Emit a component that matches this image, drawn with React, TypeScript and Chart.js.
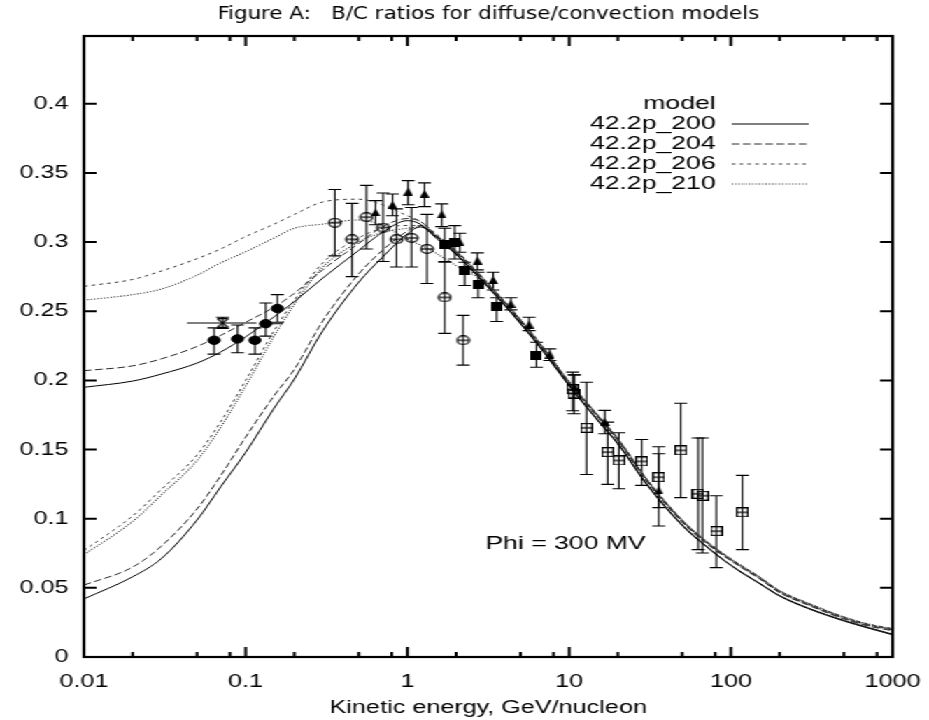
import React, { useEffect, useRef } from 'react';
import { Chart, registerables } from 'chart.js';

Chart.register(...registerables);

// ---------- text ----------
const titleText = 'Figure A:   B/C ratios for diffuse/convection models';
const xTitleText = 'Kinetic energy, GeV/nucleon';
const noteText = 'Phi = 300 MV';
const noteE = 9.5;
const noteY = 0.082;
const legendTitle = 'model';
const modelNames = ['42.2p_200', '42.2p_204', '42.2p_206', '42.2p_210'];

// ---------- ticks ----------
const xTickValues = [0.01, 0.1, 1, 10, 100, 1000];
const xTickLabels = ['0.01', '0.1', '1', '10', '100', '1000'];
const xMinorTicks = [0.02, 0.05, 0.08, 0.2, 0.5, 0.8, 2, 5, 8, 20, 50, 80, 200, 500, 800];
const yTickValues = [0, 0.05, 0.1, 0.15, 0.2, 0.25, 0.3, 0.35, 0.4];
const yTickLabels = ['0', '0.05', '0.1', '0.15', '0.2', '0.25', '0.3', '0.35', '0.4'];

// ---------- model curves (kinetic energy, GeV/nucleon) ----------
const curveE = [0.01, 0.02, 0.03, 0.05, 0.07, 0.1, 0.15, 0.2, 0.3, 0.5, 0.7, 1, 1.2, 1.5, 2, 3, 5, 7, 10, 15, 20, 30, 50, 70, 100, 150, 200, 300, 500, 700, 1000];
const m200a = [0.195, 0.1995, 0.2045, 0.2125, 0.2205, 0.2315, 0.246, 0.257, 0.274, 0.294, 0.307, 0.3155, 0.313, 0.303, 0.291, 0.270, 0.241, 0.220, 0.196, 0.171, 0.154, 0.125, 0.095, 0.080, 0.066, 0.053, 0.044, 0.035, 0.026, 0.021, 0.016];
const m200b = [0.042, 0.058, 0.071, 0.099, 0.123, 0.148, 0.180, 0.201, 0.236, 0.271, 0.289, 0.306, 0.311, 0.304, 0.2915, 0.2705, 0.2415, 0.2205, 0.1965, 0.1715, 0.1545, 0.1255, 0.0955, 0.0805, 0.0665, 0.0535, 0.0445, 0.0355, 0.0265, 0.0215, 0.0165];
const m204a = [0.207, 0.2105, 0.2155, 0.2245, 0.2325, 0.242, 0.253, 0.263, 0.280, 0.299, 0.311, 0.317, 0.315, 0.305, 0.293, 0.272, 0.243, 0.222, 0.198, 0.174, 0.157, 0.128, 0.098, 0.083, 0.070, 0.057, 0.047, 0.038, 0.028, 0.023, 0.0195];
const m204b = [0.052, 0.065, 0.080, 0.107, 0.131, 0.159, 0.189, 0.208, 0.243, 0.277, 0.294, 0.308, 0.312, 0.3045, 0.2925, 0.2715, 0.2425, 0.2215, 0.1975, 0.1735, 0.1565, 0.1275, 0.0975, 0.0825, 0.0695, 0.0565, 0.0465, 0.0375, 0.0275, 0.0225, 0.019];
const m206a = [0.268, 0.273, 0.279, 0.288, 0.295, 0.304, 0.313, 0.320, 0.329, 0.331, 0.327, 0.319, 0.315, 0.306, 0.294, 0.273, 0.244, 0.223, 0.199, 0.175, 0.158, 0.129, 0.099, 0.084, 0.071, 0.058, 0.048, 0.039, 0.029, 0.024, 0.0205];
const m206b = [0.077, 0.102, 0.121, 0.146, 0.170, 0.200, 0.236, 0.258, 0.285, 0.303, 0.310, 0.312, 0.312, 0.305, 0.2935, 0.2725, 0.2435, 0.2225, 0.1985, 0.1745, 0.1575, 0.1285, 0.0985, 0.0835, 0.0705, 0.0575, 0.0475, 0.0385, 0.0285, 0.0235, 0.020];
const m210a = [0.258, 0.262, 0.266, 0.276, 0.285, 0.293, 0.303, 0.310, 0.313, 0.316, 0.312, 0.302, 0.298, 0.292, 0.283, 0.271, 0.244, 0.223, 0.199, 0.175, 0.158, 0.129, 0.099, 0.084, 0.071, 0.058, 0.048, 0.039, 0.029, 0.024, 0.0205];
const m210b = [0.074, 0.098, 0.117, 0.142, 0.166, 0.196, 0.232, 0.255, 0.282, 0.300, 0.307, 0.310, 0.311, 0.3045, 0.2935, 0.2725, 0.2435, 0.2225, 0.1985, 0.1745, 0.1575, 0.1285, 0.0985, 0.0835, 0.0705, 0.0575, 0.0475, 0.0385, 0.0285, 0.0235, 0.020];

// ---------- measurements ----------
const fcE = [0.0638, 0.0891, 0.114, 0.133, 0.157];
const fcY = [0.229, 0.230, 0.229, 0.241, 0.252];
const fcLo = [0.219, 0.220, 0.219, 0.232, 0.242];
const fcHi = [0.238, 0.240, 0.238, 0.256, 0.262];
const fcXLo = [null, null, null, 0.122, null];
const fcXHi = [null, null, null, 0.17, null];

const hgE = [0.072];
const hgY = [0.2415];
const hgLo = [0.2375];
const hgHi = [0.2457];
const hgXLo = [0.0435];
const hgXHi = [0.1167];

const ocE = [0.356, 0.455, 0.558, 0.708, 0.856, 1.06, 1.32, 1.70, 2.21];
const ocY = [0.314, 0.302, 0.318, 0.3105, 0.302, 0.303, 0.295, 0.260, 0.229];
const ocLo = [0.290, 0.275, 0.295, 0.286, 0.282, 0.282, 0.270, 0.234, 0.211];
const ocHi = [0.338, 0.328, 0.341, 0.3355, 0.324, 0.325, 0.320, 0.286, 0.247];

const ftE = [0.635, 0.809, 1.01, 1.275, 1.63, 2.11, 2.71, 3.39, 4.36, 5.65, 7.59, 10.8, 16.6, 35.8];
const ftY = [0.3215, 0.327, 0.3365, 0.335, 0.320, 0.300, 0.2866, 0.2727, 0.2553, 0.2404, 0.2187, 0.195, 0.170, 0.1204];
const ftLo = [0.3125, 0.319, 0.327, 0.3256, 0.3112, 0.2926, 0.2799, 0.2654, 0.251, 0.236, 0.2144, 0.187, 0.1614, 0.0947];
const ftHi = [0.330, 0.3348, 0.3444, 0.3428, 0.3276, 0.3064, 0.2922, 0.2782, 0.2597, 0.2457, 0.2228, 0.204, 0.1783, 0.147];

const fsE = [1.70, 1.96, 2.26, 2.74, 3.56, 6.28];
const fsY = [0.298, 0.300, 0.2794, 0.2693, 0.2534, 0.218];
const fsLo = [0.2854, 0.2878, 0.2686, 0.2597, 0.2426, 0.2095];
const fsHi = [0.310, 0.3119, 0.2854, 0.2782, 0.2597, 0.2276];

const osE = [10.5, 10.7, 12.8, 17.3, 20.3, 28.1, 35.8, 49.0, 62.7, 66.7, 81.3, 117.8];
const osY = [0.1935, 0.1905, 0.1657, 0.1481, 0.1421, 0.1414, 0.130, 0.1494, 0.118, 0.1166, 0.091, 0.1046];
const osLo = [0.1780, 0.1759, 0.132, 0.1248, 0.1217, 0.1241, 0.108, 0.1152, 0.0776, 0.0752, 0.0646, 0.0776];
const osHi = [0.206, 0.204, 0.1987, 0.1698, 0.1621, 0.1573, 0.152, 0.1835, 0.1583, 0.1583, 0.1166, 0.1313];

// ---------- layout constants ----------
const FONT = '"Liberation Sans", Arial, Helvetica, sans-serif';
const TITLE_FONT = '"Liberation Sans Narrow", "DejaVu Sans Condensed", "Arial Narrow", "Liberation Sans", sans-serif';
const CANVAS_W = 664;
const CANVAS_H = 720;
const STRETCH = 929 / CANVAS_W;

function pts(xs: number[], ys: number[]) {
  return xs.map((x, i) => ({ x, y: ys[i] }));
}

function makeMarker(w: number, h: number, draw: (c: CanvasRenderingContext2D) => void) {
  const cv = document.createElement('canvas');
  cv.width = w;
  cv.height = h;
  const c = cv.getContext('2d')!;
  c.strokeStyle = '#000';
  c.fillStyle = '#000';
  c.lineWidth = 1.25;
  draw(c);
  return cv;
}

const errorBarPlugin = {
  id: 'errorBars',
  beforeDatasetsDraw(chart: any) {
    const { ctx } = chart;
    const xs = chart.scales.x;
    const ys = chart.scales.y;
    ctx.save();
    ctx.strokeStyle = '#000';
    ctx.lineWidth = 1.1;
    const cap = 4.6;
    chart.data.datasets.forEach((ds: any) => {
      if (!ds.errLo) return;
      ds.data.forEach((p: any, i: number) => {
        const px = xs.getPixelForValue(p.x);
        const yl = ys.getPixelForValue(ds.errLo[i]);
        const yh = ys.getPixelForValue(ds.errHi[i]);
        ctx.beginPath();
        ctx.moveTo(px, yl);
        ctx.lineTo(px, yh);
        ctx.moveTo(px - cap, yl);
        ctx.lineTo(px + cap, yl);
        ctx.moveTo(px - cap, yh);
        ctx.lineTo(px + cap, yh);
        if (ds.errXLo && ds.errXLo[i] != null) {
          const py = ys.getPixelForValue(p.y);
          ctx.moveTo(xs.getPixelForValue(ds.errXLo[i]), py);
          ctx.lineTo(xs.getPixelForValue(ds.errXHi[i]), py);
        }
        ctx.stroke();
      });
    });
    ctx.restore();
  },
};

const framePlugin = {
  id: 'gnuFrame',
  afterDraw(chart: any) {
    const { ctx, chartArea } = chart;
    const { left, right, top, bottom } = chartArea;
    const xs = chart.scales.x;
    const ys = chart.scales.y;
    ctx.save();
    ctx.strokeStyle = '#000';
    ctx.lineWidth = 2.2;
    ctx.strokeRect(left, top, right - left, bottom - top);
    ctx.lineWidth = 2;
    ctx.beginPath();
    yTickValues.forEach((v) => {
      const py = ys.getPixelForValue(v);
      ctx.moveTo(left, py);
      ctx.lineTo(left + 9, py);
      ctx.moveTo(right, py);
      ctx.lineTo(right - 9, py);
    });
    xTickValues.forEach((v) => {
      const px = xs.getPixelForValue(v);
      ctx.moveTo(px, bottom);
      ctx.lineTo(px, bottom - 10);
      ctx.moveTo(px, top);
      ctx.lineTo(px, top + 10);
    });
    xMinorTicks.forEach((v) => {
      const px = xs.getPixelForValue(v);
      ctx.moveTo(px, bottom);
      ctx.lineTo(px, bottom - 5);
      ctx.moveTo(px, top);
      ctx.lineTo(px, top + 5);
    });
    ctx.stroke();

    // legend
    ctx.fillStyle = '#000';
    ctx.font = `19px ${FONT}`;
    ctx.textAlign = 'right';
    ctx.textBaseline = 'middle';
    const textRight = right - 126.5;
    ctx.fillText(legendTitle, textRight, top + 68);
    modelNames.forEach((name, i) => {
      const yy = top + 88 + i * 20;
      ctx.fillText(name, textRight, yy);
      const ds = chart.data.datasets.find((d: any) => d.modelIndex === i);
      if (ds) {
        ctx.save();
        ctx.strokeStyle = ds.borderColor;
        ctx.lineWidth = ds.borderWidth;
        ctx.setLineDash(ds.borderDash || []);
        ctx.beginPath();
        ctx.moveTo(right - 115, yy);
        ctx.lineTo(right - 60, yy);
        ctx.stroke();
        ctx.restore();
      }
    });

    // annotation
    ctx.textAlign = 'center';
    ctx.fillText(noteText, xs.getPixelForValue(noteE), ys.getPixelForValue(noteY));
    ctx.restore();
  },
};

export default function App() {
  const canvasRef = useRef<HTMLCanvasElement | null>(null);

  useEffect(() => {
    if (!canvasRef.current) return;

    const circBar = makeMarker(11, 10, (c) => {
      c.beginPath();
      c.arc(5.5, 5, 4.3, 0, Math.PI * 2);
      c.stroke();
      c.beginPath();
      c.moveTo(1.2, 5);
      c.lineTo(9.8, 5);
      c.stroke();
    });
    const sqBar = makeMarker(9, 10, (c) => {
      c.strokeRect(0.6, 0.6, 7.8, 8.8);
      c.beginPath();
      c.moveTo(0.6, 5);
      c.lineTo(8.4, 5);
      c.stroke();
    });
    const filledSq = makeMarker(8, 9, (c) => {
      c.fillRect(0, 0, 8, 9);
    });
    const filledTri = makeMarker(7, 8, (c) => {
      c.beginPath();
      c.moveTo(3.5, 0);
      c.lineTo(7, 8);
      c.lineTo(0, 8);
      c.closePath();
      c.fill();
    });
    const hourglass = makeMarker(9, 10, (c) => {
      c.beginPath();
      c.moveTo(0.6, 0.6);
      c.lineTo(8.4, 0.6);
      c.moveTo(0.6, 9.4);
      c.lineTo(8.4, 9.4);
      c.moveTo(0.6, 0.6);
      c.lineTo(8.4, 9.4);
      c.moveTo(8.4, 0.6);
      c.lineTo(0.6, 9.4);
      c.stroke();
    });

    const scatterBase = {
      type: 'line' as const,
      showLine: false,
      pointRadius: 5,
      pointHoverRadius: 5,
      borderWidth: 1,
      borderColor: '#000',
      backgroundColor: '#000',
    };

    const scatterSets: any[] = [
      { ...scatterBase, label: 'filled circles', data: pts(fcE, fcY), pointStyle: 'circle', pointRadius: 4.2, errLo: fcLo, errHi: fcHi, errXLo: fcXLo, errXHi: fcXHi },
      { ...scatterBase, label: 'hourglass', data: pts(hgE, hgY), pointStyle: hourglass, errLo: hgLo, errHi: hgHi, errXLo: hgXLo, errXHi: hgXHi },
      { ...scatterBase, label: 'open circles', data: pts(ocE, ocY), pointStyle: circBar, errLo: ocLo, errHi: ocHi },
      { ...scatterBase, label: 'filled triangles', data: pts(ftE, ftY), pointStyle: filledTri, errLo: ftLo, errHi: ftHi },
      { ...scatterBase, label: 'filled squares', data: pts(fsE, fsY), pointStyle: filledSq, errLo: fsLo, errHi: fsHi },
      { ...scatterBase, label: 'open squares', data: pts(osE, osY), pointStyle: sqBar, errLo: osLo, errHi: osHi },
    ];

    const styles = [
      { color: '#000', dash: [] as number[], width: 1 },
      { color: '#2b2b2b', dash: [5.5, 2.5], width: 1 },
      { color: '#3a3a3a', dash: [2.6, 3], width: 1 },
      { color: '#2b2b2b', dash: [1, 1.4], width: 1.1 },
    ];
    const curveSeries: [number, number[]][] = [
      [0, m200a], [0, m200b], [1, m204a], [1, m204b],
      [2, m206a], [2, m206b], [3, m210a], [3, m210b],
    ];
    const curveSets: any[] = curveSeries.map(([mi, ys], k) => ({
      type: 'line',
      label: modelNames[mi] + (k % 2 === 0 ? ' a' : ' b'),
      modelIndex: k % 2 === 0 ? mi : undefined,
      data: pts(curveE, ys),
      borderColor: styles[mi].color,
      borderDash: styles[mi].dash,
      borderWidth: styles[mi].width,
      pointRadius: 0,
      fill: false,
      cubicInterpolationMode: 'monotone',
    }));

    const chart = new Chart(canvasRef.current, {
      type: 'line',
      data: { datasets: [...scatterSets, ...curveSets] },
      options: {
        animation: false,
        responsive: true,
        maintainAspectRatio: false,
        parsing: false as any,
        layout: { padding: { left: 0, right: 26, top: 0, bottom: 0 } },
        plugins: {
          legend: { display: false },
          tooltip: { enabled: false },
          title: {
            display: true,
            fullSize: false,
            text: titleText,
            color: '#000',
            font: { family: TITLE_FONT, size: 17, weight: 'normal' },
            padding: { top: 4, bottom: 11.6 },
          },
        },
        scales: {
          x: {
            type: 'logarithmic',
            min: 0.01,
            max: 1000,
            grid: { display: false, drawTicks: true, tickLength: 14 },
            border: { display: false },
            afterBuildTicks: (s: any) => {
              s.ticks = xTickValues.map((v) => ({ value: v }));
            },
            afterFit: (s: any) => {
              s.height = 63;
            },
            ticks: {
              autoSkip: false,
              maxRotation: 0,
              minRotation: 0,
              padding: 0,
              color: '#000',
              font: { family: FONT, size: 18 },
              callback: (_v: any, i: number) => xTickLabels[i],
            },
            title: {
              display: true,
              text: xTitleText,
              color: '#000',
              font: { family: FONT, size: 18 },
              padding: { top: 0, bottom: 1 },
            },
          },
          y: {
            type: 'linear',
            min: 0,
            max: 0.449,
            grid: { display: false, drawTicks: false },
            border: { display: false },
            afterBuildTicks: (s: any) => {
              s.ticks = yTickValues.map((v) => ({ value: v }));
            },
            afterFit: (s: any) => {
              s.width = 60;
            },
            ticks: {
              padding: 11,
              color: '#000',
              font: { family: FONT, size: 18 },
              callback: (_v: any, i: number) => yTickLabels[i],
            },
          },
        },
      } as any,
      plugins: [errorBarPlugin, framePlugin],
    });

    return () => chart.destroy();
  }, []);

  return (
    <div
      style={{
        position: 'fixed',
        left: 0,
        top: 0,
        width: CANVAS_W,
        height: CANVAS_H,
        transform: `scaleX(${STRETCH})`,
        transformOrigin: '0 0',
        background: '#fff',
      }}
    >
      <canvas ref={canvasRef} />
    </div>
  );
}
